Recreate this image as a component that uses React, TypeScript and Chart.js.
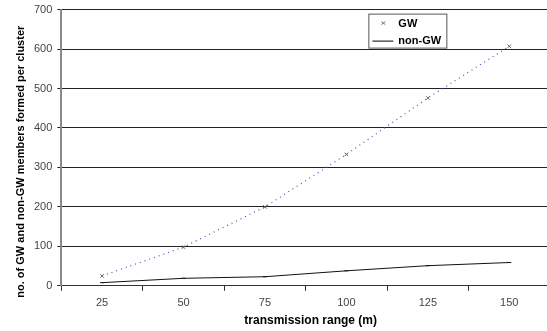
import React, { useEffect, useRef } from "react";
import { Chart, registerables } from "chart.js";

Chart.register(...registerables);

const categories = ["25", "50", "75", "100", "125", "150"];
const gwValues = [25, 98, 200, 333, 476, 607];
const nonGwValues = [8, 19, 23, 38, 51, 59];
const seriesLabels = ["GW", "non-GW"];
const xTitle = "transmission range (m)";
const yTitle = "no. of GW and non-GW members formed per cluster";

const FONT = "'Liberation Sans', Arial, sans-serif";

const boxLegend = {
  id: "boxLegend",
  afterDraw(chart: any) {
    const ctx = chart.ctx;
    const area = chart.chartArea;
    const x0 = area.left + 307;
    const y0 = area.top + 4;
    const w = 78;
    const h = 34;
    ctx.save();
    ctx.fillStyle = "#fff";
    ctx.fillRect(x0, y0, w, h);
    ctx.strokeStyle = "#555";
    ctx.lineWidth = 1;
    ctx.strokeRect(x0 + 0.5, y0 + 0.5, w, h);
    ctx.font = "bold 11px " + FONT;
    ctx.fillStyle = "#000";
    ctx.textBaseline = "middle";
    const ds = chart.data.datasets;
    ctx.strokeStyle = "#777";
    ctx.beginPath();
    ctx.moveTo(x0 + 13, y0 + 8);
    ctx.lineTo(x0 + 17, y0 + 11);
    ctx.moveTo(x0 + 13, y0 + 11);
    ctx.lineTo(x0 + 17, y0 + 8);
    ctx.stroke();
    ctx.fillText(ds[0].label, x0 + 30, y0 + 10);
    ctx.strokeStyle = "#000";
    ctx.beginPath();
    ctx.moveTo(x0 + 4, y0 + 27.5);
    ctx.lineTo(x0 + 25, y0 + 27.5);
    ctx.stroke();
    ctx.fillText(ds[1].label, x0 + 30, y0 + 27);
    ctx.restore();
  },
};

const axisTitles = {
  id: "axisTitles",
  afterDraw(chart: any) {
    const ctx = chart.ctx;
    const area = chart.chartArea;
    ctx.save();
    ctx.fillStyle = "#000";
    ctx.textAlign = "center";
    ctx.textBaseline = "middle";
    ctx.font = "bold 12px " + FONT;
    ctx.fillText(xTitle, (area.left + area.right) / 2 + 5, chart.height - 10);
    ctx.font = "bold 11px " + FONT;
    ctx.translate(21, (area.top + area.bottom) / 2 + 14);
    ctx.rotate(-Math.PI / 2);
    ctx.fillText(yTitle, 0, 0);
    ctx.restore();
  },
};

export default function App() {
  const ref = useRef<HTMLCanvasElement>(null);
  useEffect(() => {
    document.body.style.margin = "0";
    const chart = new Chart(ref.current!, {
      type: "line",
      data: {
        labels: categories,
        datasets: [
          {
            label: seriesLabels[0],
            data: gwValues,
            borderColor: "#5050c0",
            borderWidth: 1.2,
            borderDash: [1, 4],
            pointStyle: "crossRot",
            pointRadius: 2.5,
            pointBorderColor: "#666",
            pointBorderWidth: 1,
            fill: false,
            tension: 0,
          },
          {
            label: seriesLabels[1],
            data: nonGwValues,
            borderColor: "#111",
            borderWidth: 1,
            pointStyle: "line",
            pointRadius: 2,
            pointBorderColor: "#111",
            pointBorderWidth: 1,
            fill: false,
            tension: 0,
          },
        ],
      },
      options: {
        animation: false,
        responsive: false,
        maintainAspectRatio: false,
        layout: { padding: { top: 5, right: 0, left: 29, bottom: 15 } },
        plugins: {
          legend: { display: false },
          tooltip: { enabled: false },
        },
        scales: {
          x: {
            offset: true,
            grid: {
              offset: true,
              drawOnChartArea: false,
              drawTicks: true,
              tickLength: 5,
              color: "#333",
            },
            border: { color: "#333", width: 1 },
            ticks: {
              color: "#444",
              font: { family: FONT, size: 11 },
              padding: 6,
            },
          },
          y: {
            min: 0,
            max: 700,
            ticks: {
              stepSize: 100,
              color: "#444",
              font: { family: FONT, size: 11 },
              padding: 5,
            },
            grid: {
              color: "#222",
              lineWidth: 1,
              drawTicks: true,
              tickLength: 4,
            },
            border: { color: "#888", width: 2 },
          },
        },
      },
      plugins: [boxLegend, axisTitles],
    });
    return () => chart.destroy();
  }, []);
  return (
    <div style={{ width: 547, height: 331, background: "#fff", overflow: "hidden", position: "relative" }}>
      <canvas
        ref={ref}
        width={555}
        height={333}
        style={{ position: "absolute", left: 0, top: -2, width: 555, height: 333 }}
      />
    </div>
  );
}
